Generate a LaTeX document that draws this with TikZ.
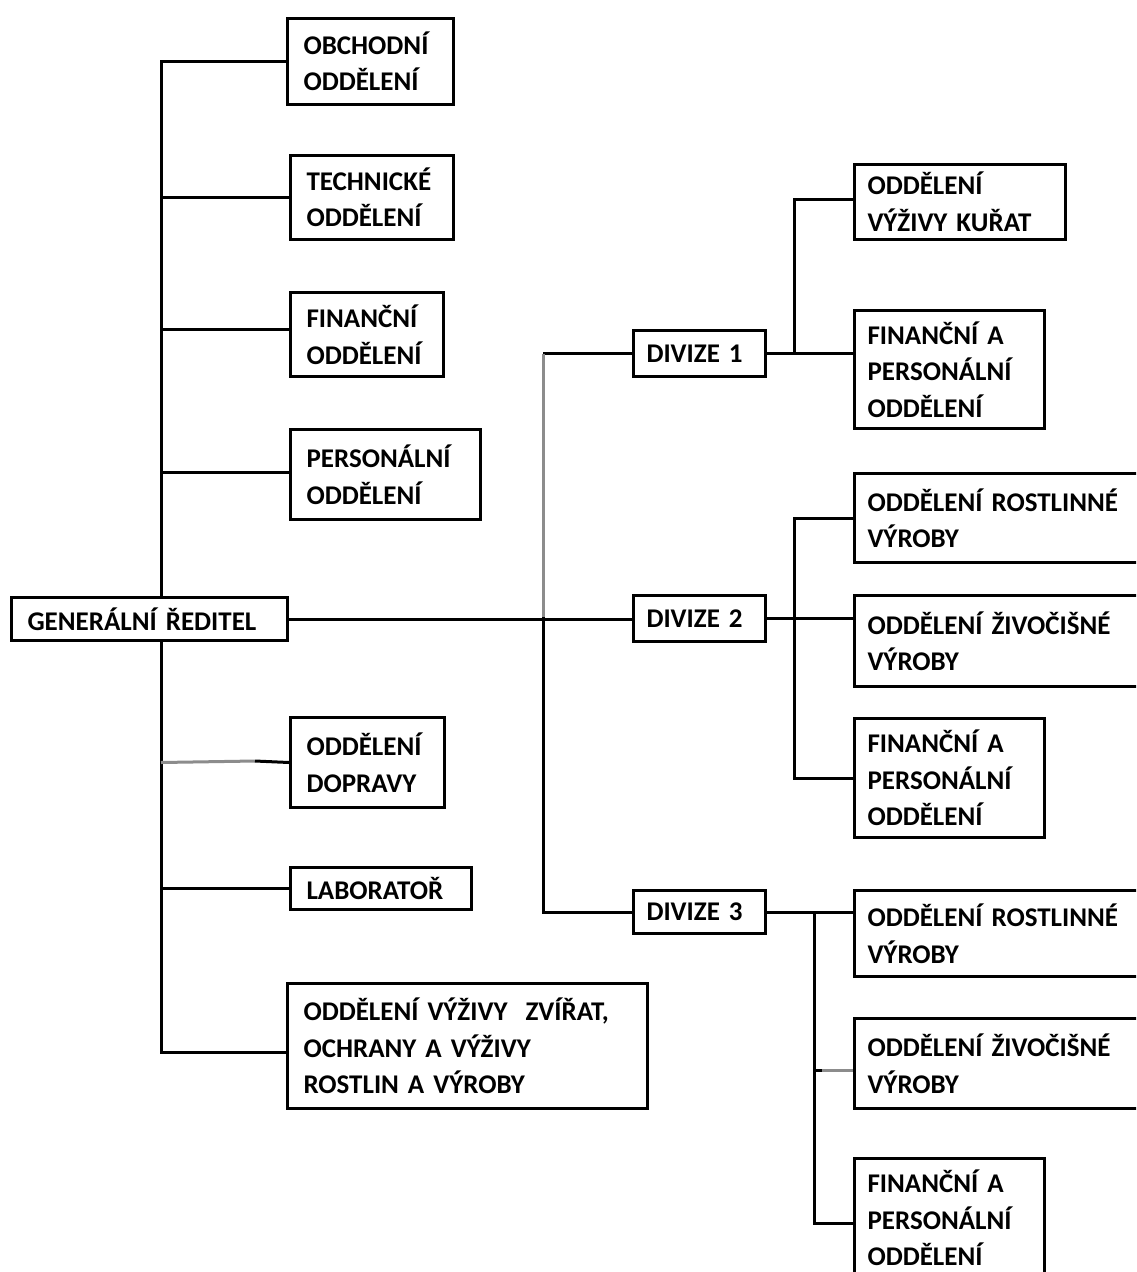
\documentclass[tikz,border=0pt]{standalone}
\usepackage{fontspec}
\setmainfont{Carlito}
\begin{document}
\begin{tikzpicture}[x=1pt,y=-1pt,
  box/.style={draw, line width=3pt, fill=white, anchor=north west, align=left,
    inner xsep=16pt, inner ysep=0pt,
    font=\fontsize{27}{36.5}\selectfont\bfseries},
  rbox/.style={box, inner xsep=13pt},
  conn/.style={line width=3pt},
  gconn/.style={line width=3pt, draw=black!45}]
\clip (0,0) rectangle (1136,1272);
\fill[white] (0,0) rectangle (1136,1272);
% left column
\node[box, text width=134pt, minimum height=86pt] (obch) at (286,17) {OBCHODNÍ\\ODDĚLENÍ};
\node[box, text width=131pt, minimum height=84pt] (tech) at (289,154) {TECHNICKÉ\\ODDĚLENÍ};
\node[box, text width=121pt, minimum height=84pt] (fin) at (289,291) {FINANČNÍ\\ODDĚLENÍ};
\node[box, text width=158pt, minimum height=90pt] (pers) at (289,428) {PERSONÁLNÍ\\ODDĚLENÍ};
\node[box, text width=244pt, minimum height=43pt] (gr) at (10,596) {GENERÁLNÍ ŘEDITEL};
\node[box, text width=122pt, minimum height=90pt] (dopr) at (289,716) {ODDĚLENÍ\\DOPRAVY};
\node[box, text width=149pt, minimum height=42pt] (lab) at (289,866) {LABORATOŘ};
\node[box, text width=328pt, minimum height=125pt] (vyz) at (286,982) {ODDĚLENÍ VÝŽIVY \ ZVÍŘAT,\\OCHRANY A VÝŽIVY\\ROSTLIN A VÝROBY};
% divisions
\node[rbox, text width=106pt, minimum height=46pt] (d1) at (632,329) {DIVIZE 1};
\node[rbox, text width=106pt, minimum height=46pt] (d2) at (632,594) {DIVIZE 2};
\node[rbox, text width=106pt, minimum height=43pt] (d3) at (632,889) {DIVIZE 3};
% right column
\node[rbox, text width=185pt, minimum height=75pt] (k1) at (853,163) {ODDĚLENÍ\\VÝŽIVY KUŘAT};
\node[rbox, text width=164pt, minimum height=118pt] (fp1) at (853,309) {FINANČNÍ A\\PERSONÁLNÍ\\ODDĚLENÍ};
\node[rbox, text width=300pt, minimum height=89pt] (r2) at (853,472) {ODDĚLENÍ ROSTLINNÉ\\VÝROBY};
\node[rbox, text width=300pt, minimum height=91pt] (z2) at (853,594) {ODDĚLENÍ ŽIVOČIŠNÉ\\VÝROBY};
\node[rbox, text width=164pt, minimum height=119pt] (fp2) at (853,717) {FINANČNÍ A\\PERSONÁLNÍ\\ODDĚLENÍ};
\node[rbox, text width=300pt, minimum height=86pt] (r3) at (853,889) {ODDĚLENÍ ROSTLINNÉ\\VÝROBY};
\node[rbox, text width=300pt, minimum height=90pt] (z3) at (853,1017) {ODDĚLENÍ ŽIVOČIŠNÉ\\VÝROBY};
\node[rbox, text width=164pt, minimum height=119pt] (fp3) at (853,1157) {FINANČNÍ A\\PERSONÁLNÍ\\ODDĚLENÍ};
% coordinates
\coordinate (lt) at (161,0);
\coordinate (mt) at (543,617);
\coordinate (b1) at (794,0);
\coordinate (b2) at (794,617);
\coordinate (b3) at (814,1223);
\coordinate (dg) at (255,761);
% left trunk
\draw[conn] (gr.north -| lt) |- (obch.west);
\draw[conn] (lt |- tech.west) -- (tech.west);
\draw[conn] (lt |- fin.west) ++(0,-5) -- ([yshift=5pt]fin.west);
\draw[conn] (lt |- pers.west) ++(0,-2) -- ([yshift=2pt]pers.west);
\draw[conn] (gr.south -| lt) |- ([yshift=-6pt]vyz.west);
\draw[gconn] (lt |- dopr.west) -- (dg);
\draw[conn] (dg) -- (dopr.west);
\draw[conn] (lt |- lab.west) -- (lab.west);
% to divisions
\draw[conn] (gr.east) -- (gr.east -| d2.west);
\draw[conn] (d1.west) -| (mt |- d1.west);
\draw[gconn] (mt |- d1.west) -- (mt);
\draw[conn] (mt) |- (d3.west);
% division 1
\draw[conn] (d1.east) -- (d1.east -| fp1.west);
\draw[conn] (d1.east -| b1) |- ([yshift=3pt]k1.west);
% division 2
\draw[conn] (d2.east) -- (d2.east -| z2.west);
\draw[conn] (r2.west) -| (b2) |- (fp2.west);
% division 3
\draw[conn] (d3.east) -- (d3.east -| r3.west);
\draw[conn] (d3.east -| b3) -- (b3) -- (b3 -| fp3.west);
\draw[conn] (b3 |- 0,1070) -- (822,1070);
\draw[gconn] (822,1070) -- (z3.west |- 0,1070);
\end{tikzpicture}
\end{document}
